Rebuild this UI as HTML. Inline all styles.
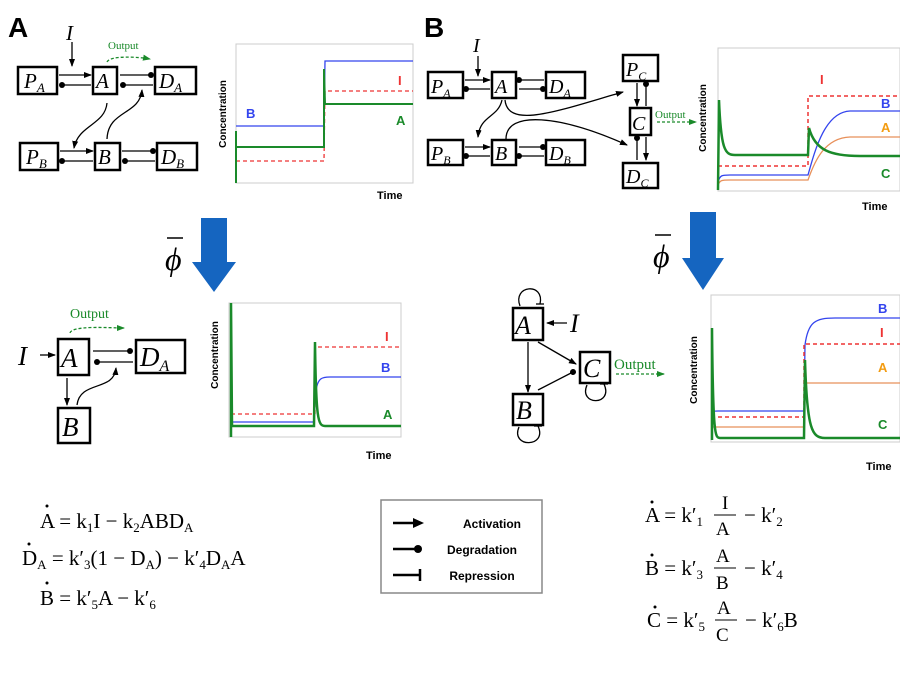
<!DOCTYPE html>
<html><head><meta charset="utf-8"><style>
html,body{margin:0;padding:0;background:#fff}
svg{display:block}
.m{font-family:"Liberation Serif",serif}
.s{font-family:"Liberation Sans",sans-serif;font-weight:bold}
</style></head><body>
<svg width="900" height="675" viewBox="0 0 900 675" xmlns="http://www.w3.org/2000/svg">
<defs>
<marker id="ar" markerWidth="8" markerHeight="8" refX="7" refY="4" orient="auto" markerUnits="userSpaceOnUse"><path d="M0,1 L8,4 L0,7z" fill="#000"/></marker>
<marker id="dt" markerWidth="8" markerHeight="8" refX="4" refY="4" orient="auto" markerUnits="userSpaceOnUse"><circle cx="4" cy="4" r="3" fill="#000"/></marker>
<marker id="ga" markerWidth="8" markerHeight="8" refX="7" refY="4" orient="auto" markerUnits="userSpaceOnUse"><path d="M0,1 L8,4 L0,7z" fill="#1a8a2a"/></marker>
</defs>
<g class="s" font-size="28" fill="#000"><text x="8" y="37">A</text><text x="424" y="37">B</text></g>

<!-- Panel A top network -->
<g fill="none" stroke="#000" stroke-width="2.5">
<rect x="18" y="67" width="39" height="27"/><rect x="93" y="67" width="24" height="27"/><rect x="155" y="67" width="41" height="27"/>
<rect x="20" y="143" width="38" height="27"/><rect x="95" y="143" width="25" height="27"/><rect x="157" y="143" width="40" height="27"/>
</g>
<g fill="none" stroke="#000" stroke-width="1.3">
<line x1="72" y1="42" x2="72" y2="66" marker-end="url(#ar)"/>
<line x1="59" y1="75" x2="91" y2="75" marker-end="url(#ar)"/>
<line x1="91" y1="85" x2="62" y2="85" marker-end="url(#dt)"/>
<line x1="120" y1="75" x2="151" y2="75" marker-end="url(#dt)"/>
<line x1="153" y1="85" x2="123" y2="85" marker-end="url(#dt)"/>
<line x1="60" y1="151" x2="93" y2="151" marker-end="url(#ar)"/>
<line x1="93" y1="161" x2="62" y2="161" marker-end="url(#dt)"/>
<line x1="122" y1="151" x2="153" y2="151" marker-end="url(#dt)"/>
<line x1="155" y1="161" x2="125" y2="161" marker-end="url(#dt)"/>
<path d="M107,103 C105,125 78,125 74,148" marker-end="url(#ar)"/>
<path d="M107,139 C108,110 140,115 142,90" marker-end="url(#ar)"/>
</g>
<path d="M107,62 C110,55 140,57 150,59" fill="none" stroke="#1a8a2a" stroke-width="1.3" stroke-dasharray="3,2" marker-end="url(#ga)"/>
<text x="108" y="49" class="m" font-size="11" fill="#1a8a2a">Output</text>
<g class="m" font-style="italic" font-size="21" fill="#000">
<text x="66" y="40">I</text>
<text x="24" y="88">P<tspan font-size="13" dy="4">A</tspan></text>
<text x="96" y="88">A</text>
<text x="159" y="88">D<tspan font-size="13" dy="4">A</tspan></text>
<text x="26" y="164">P<tspan font-size="13" dy="4">B</tspan></text>
<text x="98" y="164">B</text>
<text x="161" y="164">D<tspan font-size="13" dy="4">B</tspan></text>
</g>

<!-- Chart A top -->
<rect x="236" y="44" width="177" height="139" fill="none" stroke="#ccc"/>
<text transform="translate(226,114) rotate(-90)" class="s" font-size="10" text-anchor="middle">Concentration</text>
<text x="377" y="199" class="s" font-size="11">Time</text>
<g fill="none">
<polyline points="236,126 324,126 325,61 413,61" stroke="#3344ee" stroke-width="1.3"/>
<polyline points="236,161 324,161 325,91 413,91" stroke="#ee3333" stroke-width="1.3" stroke-dasharray="4,3"/>
<polyline points="236,131 236,183 236,147 324,147 324,69 325,104 413,104" stroke="#1a8a2a" stroke-width="2"/>
</g>
<text x="246" y="118" class="s" font-size="13" fill="#3344ee">B</text>
<text x="398" y="85" class="s" font-size="13" fill="#ee3333">I</text>
<text x="396" y="125" class="s" font-size="13" fill="#1a8a2a">A</text>

<!-- Panel B top network -->
<g fill="none" stroke="#000" stroke-width="2.5">
<rect x="428" y="72" width="35" height="26"/><rect x="492" y="72" width="24" height="26"/><rect x="546" y="72" width="39" height="26"/>
<rect x="428" y="140" width="35" height="25"/><rect x="492" y="140" width="24" height="25"/><rect x="546" y="140" width="39" height="25"/>
<rect x="623" y="55" width="35" height="26"/><rect x="630" y="108" width="21" height="27"/><rect x="623" y="163" width="35" height="25"/>
</g>
<g fill="none" stroke="#000" stroke-width="1.3">
<line x1="478" y1="56" x2="478" y2="76" marker-end="url(#ar)"/>
<line x1="465" y1="80" x2="490" y2="80" marker-end="url(#ar)"/>
<line x1="490" y1="89" x2="466" y2="89" marker-end="url(#dt)"/>
<line x1="544" y1="80" x2="519" y2="80" marker-end="url(#dt)"/>
<line x1="519" y1="89" x2="543" y2="89" marker-end="url(#dt)"/>
<line x1="465" y1="147" x2="490" y2="147" marker-end="url(#ar)"/>
<line x1="490" y1="156" x2="466" y2="156" marker-end="url(#dt)"/>
<line x1="519" y1="147" x2="543" y2="147" marker-end="url(#dt)"/>
<line x1="544" y1="156" x2="519" y2="156" marker-end="url(#dt)"/>
<line x1="637" y1="83" x2="637" y2="106" marker-end="url(#ar)"/>
<line x1="646" y1="106" x2="646" y2="84" marker-end="url(#dt)"/>
<line x1="646" y1="137" x2="646" y2="160" marker-end="url(#ar)"/>
<line x1="637" y1="160" x2="637" y2="138" marker-end="url(#dt)"/>
<path d="M502,100 C498,118 480,115 478,137" marker-end="url(#ar)"/>
<path d="M505,100 C508,130 560,110 623,92" marker-end="url(#ar)"/>
<path d="M506,139 C506,110 560,115 627,145" marker-end="url(#ar)"/>
</g>
<line x1="657" y1="122" x2="696" y2="122" stroke="#1a8a2a" stroke-width="1.3" stroke-dasharray="3,2" marker-end="url(#ga)"/>
<text x="655" y="118" class="m" font-size="11" fill="#1a8a2a">Output</text>
<g class="m" font-style="italic" font-size="20" fill="#000">
<text x="473" y="52">I</text>
<text x="431" y="93">P<tspan font-size="12" dy="4">A</tspan></text>
<text x="495" y="93">A</text>
<text x="549" y="93">D<tspan font-size="12" dy="4">A</tspan></text>
<text x="431" y="160">P<tspan font-size="12" dy="4">B</tspan></text>
<text x="495" y="160">B</text>
<text x="549" y="160">D<tspan font-size="12" dy="4">B</tspan></text>
<text x="626" y="76">P<tspan font-size="12" dy="4">C</tspan></text>
<text x="632" y="130">C</text>
<text x="626" y="183">D<tspan font-size="12" dy="4">C</tspan></text>
</g>

<!-- Chart B top -->
<rect x="718" y="48" width="182" height="143" fill="none" stroke="#ccc"/>
<text transform="translate(706,118) rotate(-90)" class="s" font-size="10" text-anchor="middle">Concentration</text>
<text x="862" y="210" class="s" font-size="11">Time</text>
<g fill="none">
<path d="M718,182 C720,175 722,175 730,175 L808,175 C815,150 825,112 850,111 L900,111" stroke="#3344ee" stroke-width="1.3"/>
<path d="M718,185 C720,180 722,180 730,180 L808,180 C815,160 825,138 850,137 L900,137" stroke="#e8905a" stroke-width="1.3"/>
<polyline points="718,166 808,166 808,96 900,96" stroke="#ee3333" stroke-width="1.5" stroke-dasharray="4,3"/>
<path d="M718,190 L719,100 C721,150 725,155 735,155 L808,155 L809,128 C815,150 830,156 860,156 L900,156" stroke="#1a8a2a" stroke-width="2.5"/>
</g>
<text x="820" y="84" class="s" font-size="13" fill="#ee3333">I</text>
<text x="881" y="108" class="s" font-size="13" fill="#3344ee">B</text>
<text x="881" y="132" class="s" font-size="13" fill="#f39c12">A</text>
<text x="881" y="178" class="s" font-size="13" fill="#1a8a2a">C</text>

<!-- Big arrows -->
<path d="M201,218 H227 V262 H236 L214,292 L192,262 H201Z" fill="#1565c0"/>
<path d="M690,212 H716 V258 H724 L703,290 L682,258 H690Z" fill="#1565c0"/>
<text x="165" y="270" class="m" font-style="italic" font-size="32">ϕ</text>
<line x1="167" y1="238" x2="183" y2="238" stroke="#000" stroke-width="1.5"/>
<text x="653" y="267" class="m" font-style="italic" font-size="32">ϕ</text>
<line x1="655" y1="235" x2="671" y2="235" stroke="#000" stroke-width="1.5"/>

<!-- Panel A bottom network -->
<g fill="none" stroke="#000" stroke-width="2.5">
<rect x="58" y="339" width="31" height="36"/><rect x="136" y="340" width="49" height="33"/><rect x="58" y="408" width="32" height="35"/>
</g>
<g fill="none" stroke="#000" stroke-width="1.3">
<line x1="40" y1="355" x2="55" y2="355" marker-end="url(#ar)"/>
<line x1="93" y1="351" x2="130" y2="351" marker-end="url(#dt)"/>
<line x1="133" y1="362" x2="97" y2="362" marker-end="url(#dt)"/>
<line x1="67" y1="378" x2="67" y2="405" marker-end="url(#ar)"/>
<path d="M77,405 C80,380 114,392 116,368" marker-end="url(#ar)"/>
</g>
<path d="M70,333 C72,325 110,328 124,328" fill="none" stroke="#1a8a2a" stroke-width="1.3" stroke-dasharray="3,2" marker-end="url(#ga)"/>
<text x="70" y="318" class="m" font-size="14" fill="#1a8a2a">Output</text>
<g class="m" font-style="italic" font-size="27" fill="#000">
<text x="18" y="365">I</text>
<text x="61" y="367">A</text>
<text x="140" y="366">D<tspan font-size="16" dy="5">A</tspan></text>
<text x="62" y="436">B</text>
</g>

<!-- Chart A bottom -->
<rect x="229" y="303" width="172" height="134" fill="none" stroke="#ccc"/>
<text transform="translate(218,355) rotate(-90)" class="s" font-size="10" text-anchor="middle">Concentration</text>
<text x="366" y="459" class="s" font-size="11">Time</text>
<g fill="none">
<path d="M231,422 L314,422 L316,390 C318,378 322,377 330,377 L401,377" stroke="#3344ee" stroke-width="1.3"/>
<polyline points="231,414 315,414 315,347 401,347" stroke="#ee3333" stroke-width="1.3" stroke-dasharray="4,3"/>
<path d="M231,437 L231,303 L232,426 L314,426 L315,342 C316,420 318,426 325,426 L401,426" stroke="#1a8a2a" stroke-width="2.5"/>
</g>
<text x="385" y="341" class="s" font-size="13" fill="#ee3333">I</text>
<text x="381" y="372" class="s" font-size="13" fill="#3344ee">B</text>
<text x="383" y="419" class="s" font-size="13" fill="#1a8a2a">A</text>

<!-- Panel B bottom network -->
<g fill="none" stroke="#000" stroke-width="2.5">
<rect x="513" y="308" width="30" height="32"/><rect x="580" y="352" width="30" height="31"/><rect x="513" y="394" width="30" height="31"/>
</g>
<g fill="none" stroke="#000" stroke-width="1.3">
<path d="M520,306 C512,285 545,282 540,304"/><line x1="536" y1="304" x2="544" y2="304"/>
<path d="M519,427 C510,448 548,448 538,426"/><line x1="534" y1="426" x2="542" y2="426"/>
<path d="M587,385 C578,406 614,406 604,384"/><line x1="600" y1="384" x2="608" y2="384"/>
<line x1="567" y1="323" x2="547" y2="323" marker-end="url(#ar)"/>
<line x1="528" y1="342" x2="528" y2="392" marker-end="url(#ar)"/>
<line x1="538" y1="342" x2="576" y2="364" marker-end="url(#ar)"/>
<line x1="538" y1="390" x2="573" y2="372" marker-end="url(#dt)"/>
</g>
<line x1="616" y1="374" x2="664" y2="374" stroke="#1a8a2a" stroke-width="1.3" stroke-dasharray="3,2" marker-end="url(#ga)"/>
<text x="614" y="369" class="m" font-size="15" fill="#1a8a2a">Output</text>
<g class="m" font-style="italic" font-size="26" fill="#000">
<text x="570" y="332">I</text>
<text x="515" y="334">A</text>
<text x="583" y="377">C</text>
<text x="516" y="419">B</text>
</g>

<!-- Chart B bottom -->
<rect x="711" y="295" width="189" height="147" fill="none" stroke="#ccc"/>
<text transform="translate(697,370) rotate(-90)" class="s" font-size="10" text-anchor="middle">Concentration</text>
<text x="866" y="470" class="s" font-size="11">Time</text>
<g fill="none">
<path d="M713,413 C713,411 714,411 718,411 L804,411 L805,345 C808,322 815,318 835,318 L900,318" stroke="#3344ee" stroke-width="1.3"/>
<polyline points="711,417 804,417 804,344 900,344" stroke="#ee3333" stroke-width="1.5" stroke-dasharray="4,3"/>
<polyline points="711,427 804,427 805,383 900,383" stroke="#e8905a" stroke-width="1.3"/>
<path d="M712,440 L712,328 C713,436 715,438 720,438 L804,438 L805,360 C807,430 812,438 825,438 L900,438" stroke="#1a8a2a" stroke-width="2.5"/>
</g>
<text x="878" y="313" class="s" font-size="13" fill="#3344ee">B</text>
<text x="880" y="337" class="s" font-size="13" fill="#ee3333">I</text>
<text x="878" y="372" class="s" font-size="13" fill="#f39c12">A</text>
<text x="878" y="429" class="s" font-size="13" fill="#1a8a2a">C</text>

<!-- Left equations -->
<g class="m" font-size="21" fill="#000">
<text x="40" y="528">A = k<tspan font-size="13" dy="4">1</tspan><tspan dy="-4">I − k</tspan><tspan font-size="13" dy="4">2</tspan><tspan dy="-4">ABD</tspan><tspan font-size="13" dy="4">A</tspan></text>
<text x="22" y="565">D<tspan font-size="13" dy="4">A</tspan><tspan dy="-4"> = k′</tspan><tspan font-size="13" dy="4">3</tspan><tspan dy="-4">(1 − D</tspan><tspan font-size="13" dy="4">A</tspan><tspan dy="-4">) − k′</tspan><tspan font-size="13" dy="4">4</tspan><tspan dy="-4">D</tspan><tspan font-size="13" dy="4">A</tspan><tspan dy="-4">A</tspan></text>
<text x="40" y="605">B = k′<tspan font-size="13" dy="4">5</tspan><tspan dy="-4">A − k′</tspan><tspan font-size="13" dy="4">6</tspan></text>
</g>
<g fill="#000"><circle cx="47" cy="506" r="1.5"/><circle cx="29" cy="544" r="1.5"/><circle cx="47" cy="583" r="1.5"/></g>

<!-- Legend -->
<rect x="381" y="500" width="161" height="93" fill="none" stroke="#888" stroke-width="1.5"/>
<g stroke="#000" stroke-width="2.5">
<line x1="393" y1="523" x2="414" y2="523"/><line x1="393" y1="549" x2="415" y2="549"/><line x1="393" y1="575" x2="420" y2="575"/><line x1="420" y1="569" x2="420" y2="581"/>
</g>
<path d="M413,518 L424,523 L413,528z"/><circle cx="418" cy="549" r="4"/>
<g class="s" font-size="12" fill="#000" text-anchor="middle">
<text x="492" y="528">Activation</text><text x="482" y="554">Degradation</text><text x="482" y="580">Repression</text>
</g>

<!-- Right equations -->
<g class="m" font-size="21" fill="#000">
<text x="645" y="522">A = k′<tspan font-size="13" dy="4">1</tspan></text>
<text x="722" y="509" font-size="19">I</text><line x1="714" y1="515" x2="736" y2="515" stroke="#000"/><text x="716" y="535" font-size="19">A</text>
<text x="744" y="522">− k′<tspan font-size="13" dy="4">2</tspan></text>
<text x="645" y="575">B = k′<tspan font-size="13" dy="4">3</tspan></text>
<text x="716" y="562" font-size="19">A</text><line x1="714" y1="568" x2="736" y2="568" stroke="#000"/><text x="716" y="589" font-size="19">B</text>
<text x="744" y="575">− k′<tspan font-size="13" dy="4">4</tspan></text>
<text x="647" y="627">C = k′<tspan font-size="13" dy="4">5</tspan></text>
<text x="717" y="614" font-size="19">A</text><line x1="715" y1="620" x2="737" y2="620" stroke="#000"/><text x="716" y="641" font-size="19">C</text>
<text x="745" y="627">− k′<tspan font-size="13" dy="4">6</tspan><tspan dy="-4">B</tspan></text>
</g>
<g fill="#000"><circle cx="652" cy="502" r="1.5"/><circle cx="652" cy="555" r="1.5"/><circle cx="655" cy="607" r="1.5"/></g>
</svg>
</body></html>
